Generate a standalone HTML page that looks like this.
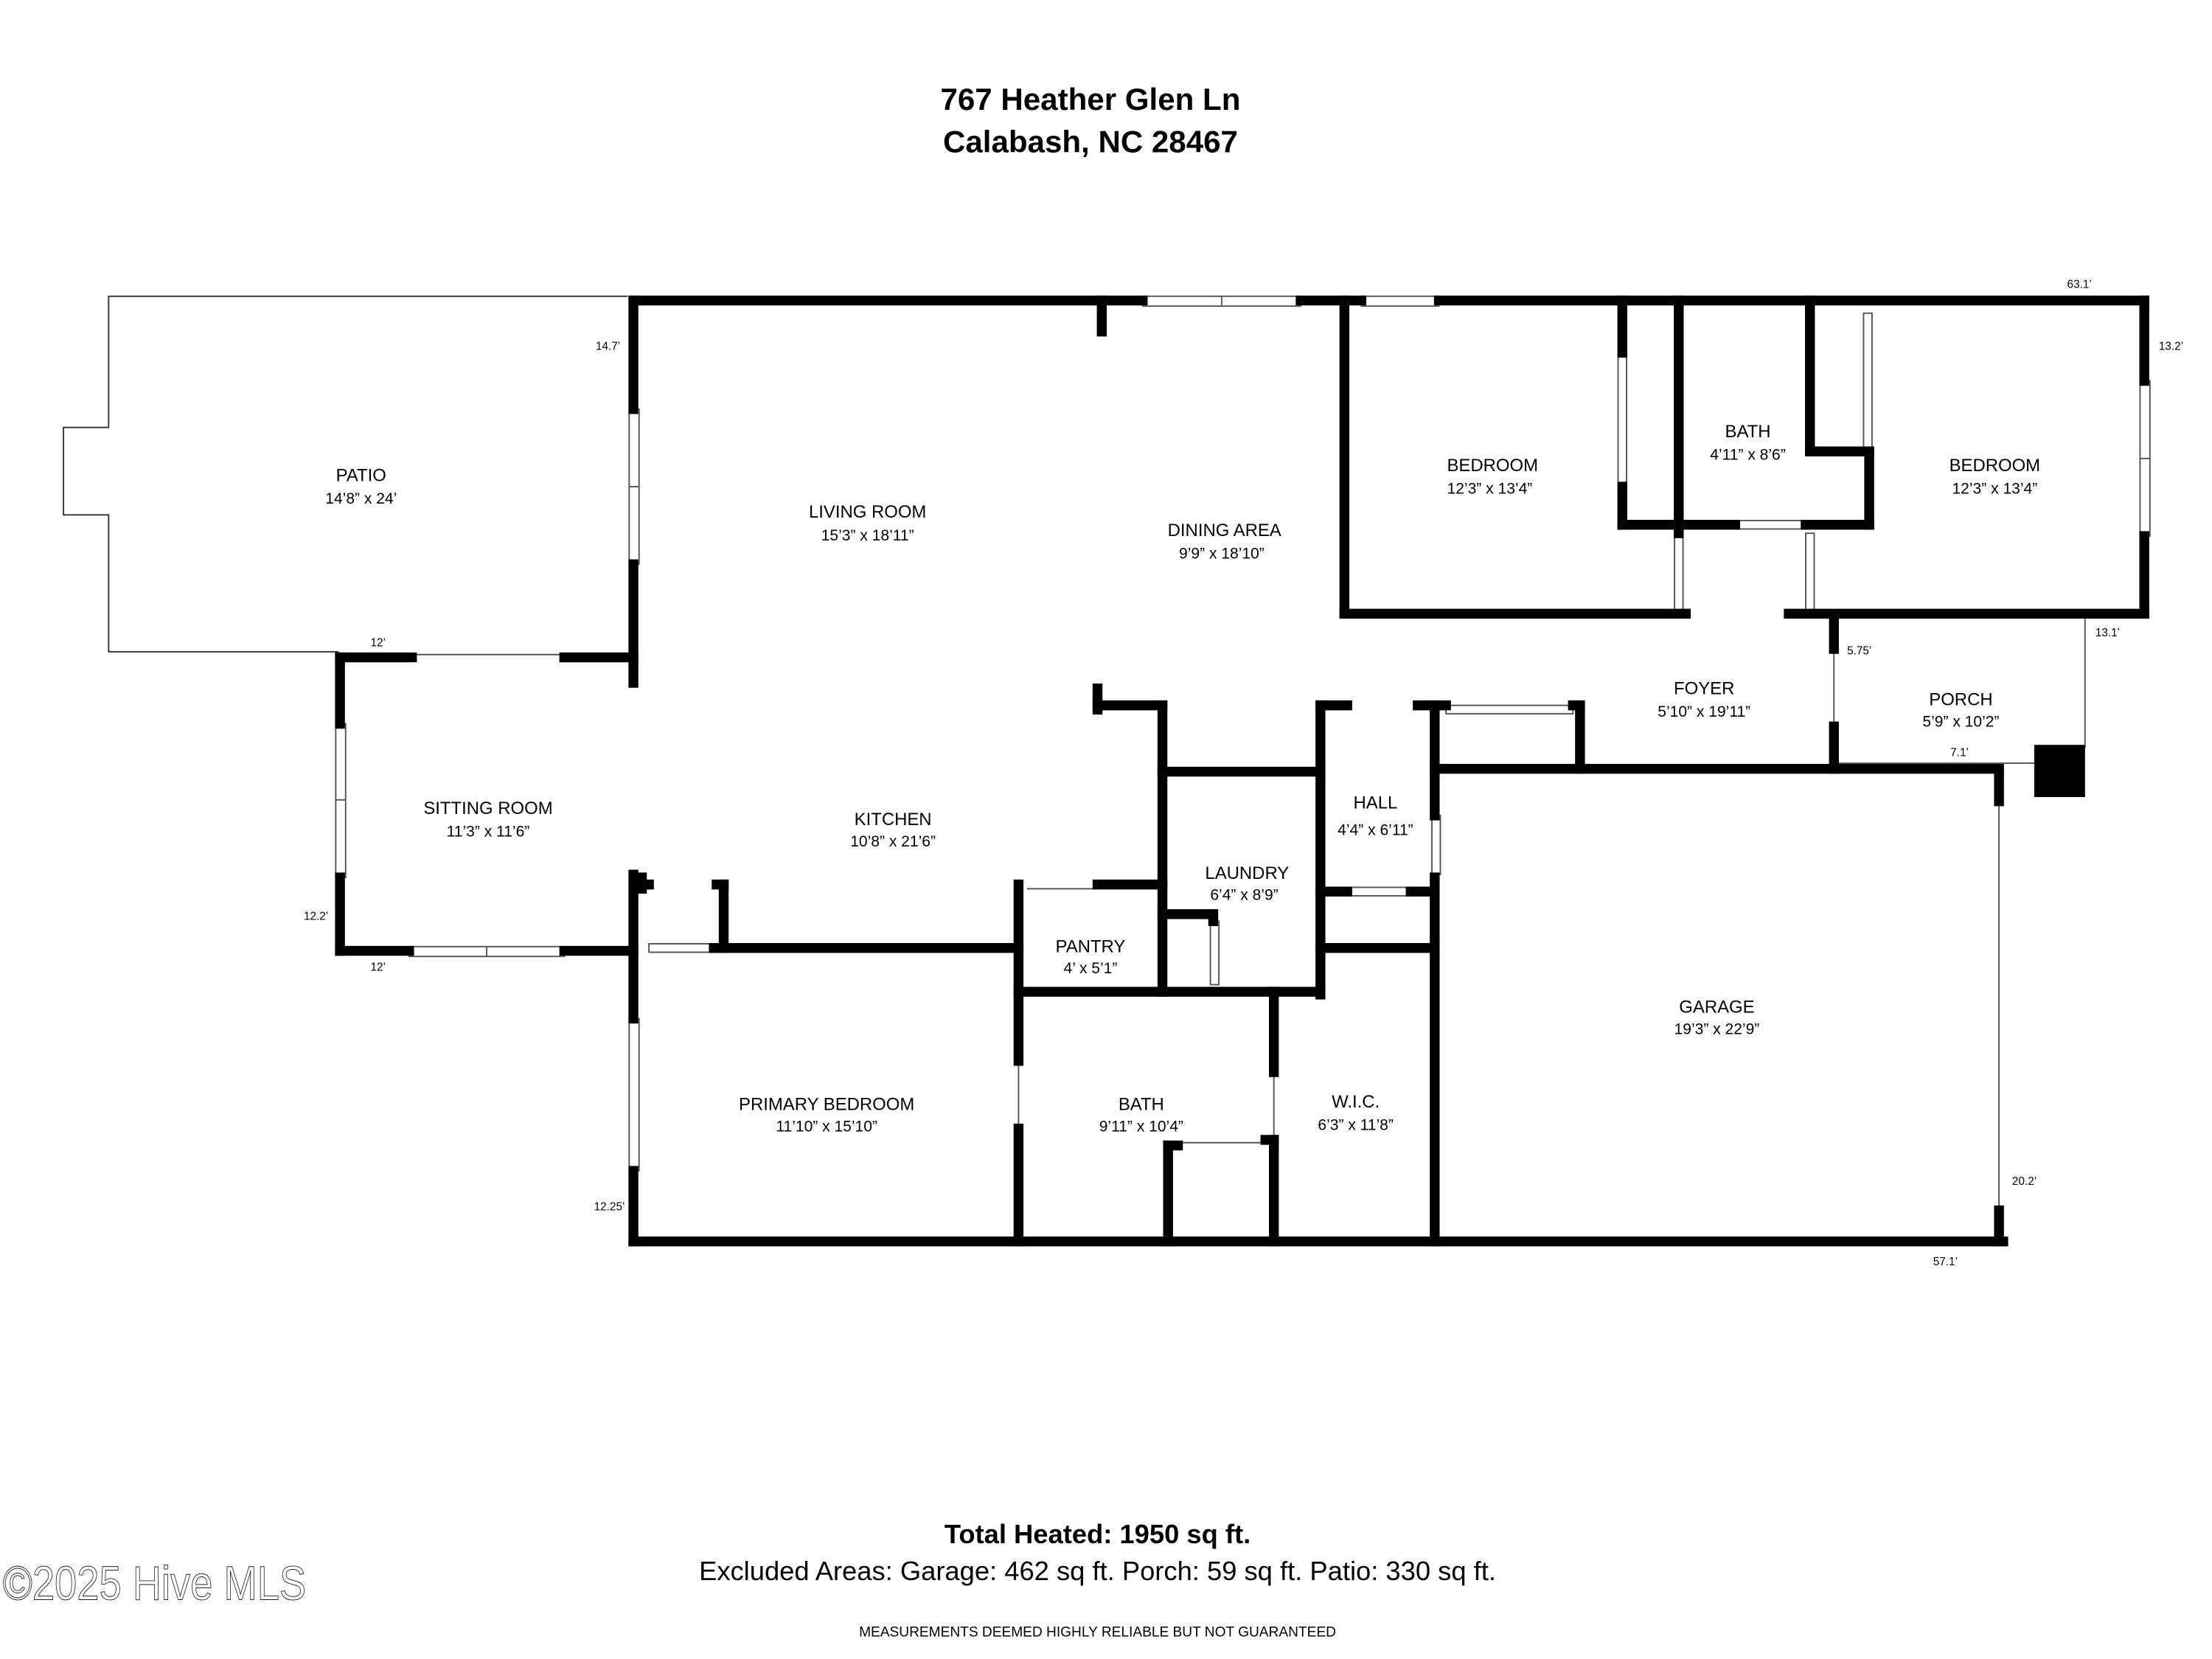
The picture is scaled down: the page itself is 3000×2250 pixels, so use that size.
<!DOCTYPE html>
<html><head><meta charset="utf-8"><style>
html,body{margin:0;padding:0;background:#fff;}
svg{display:block;}
text{font-family:"Liberation Sans",sans-serif;fill:#000;}
</style></head><body>
<svg width="3000" height="2250" viewBox="0 0 1568 1176" xmlns="http://www.w3.org/2000/svg">
<rect width="1568" height="1176" fill="#fff"/>
<text x="773" y="78" font-size="22" font-weight="bold" text-anchor="middle">767 Heather Glen Ln</text>
<text x="773" y="108" font-size="22" font-weight="bold" text-anchor="middle">Calabash, NC 28467</text>

<polyline points="445,210 77,210 77,303 45,303 45,365 77,365 77,462 240,462" fill="none" stroke="#333" stroke-width="1"/>

<g stroke="#555" stroke-width="1" fill="none">
<rect x="810" y="210" width="112" height="7"/><line x1="866" y1="210" x2="866" y2="217"/>
<rect x="965" y="210" width="55" height="7"/>
<rect x="1517" y="270" width="7" height="110"/><line x1="1517" y1="325" x2="1524" y2="325"/>
<rect x="446" y="290" width="7" height="110"/><line x1="446" y1="345" x2="453" y2="345"/>
<rect x="238" y="513" width="7" height="109"/><line x1="238" y1="567" x2="245" y2="567"/>
<rect x="290" y="671" width="110" height="7"/><line x1="345" y1="671" x2="345" y2="678"/>
<rect x="446" y="722" width="7" height="108"/>
<rect x="460" y="669" width="46" height="6"/>
<rect x="1025" y="500" width="90" height="6"/>
<rect x="955" y="629" width="45" height="6"/>
<rect x="1147" y="250" width="6" height="95"/>
<rect x="1321" y="222" width="6" height="95"/>
<rect x="1230" y="369" width="50" height="6"/>
<rect x="1187" y="378" width="6" height="55"/>
<rect x="1280" y="378" width="6" height="55"/>
<rect x="1015" y="578" width="6" height="42"/>
<rect x="858" y="653" width="6" height="45"/>
<line x1="722" y1="752" x2="722" y2="800"/>
<line x1="903" y1="760" x2="903" y2="808"/>
<line x1="835" y1="810" x2="897" y2="810"/>
<line x1="295" y1="464" x2="398" y2="464"/>
<line x1="1300" y1="460" x2="1300" y2="515"/>
<line x1="1417" y1="568" x2="1417" y2="858"/>
<line x1="1478" y1="437" x2="1478" y2="530"/>
<line x1="1300" y1="541" x2="1442" y2="541"/>
<line x1="728" y1="630" x2="778" y2="630"/>
</g>

<g stroke="#000" stroke-width="7" fill="none" stroke-linecap="square">
<line x1="449" y1="213" x2="810" y2="213"/>
<line x1="922" y1="213" x2="965" y2="213"/>
<line x1="1020" y1="213" x2="1520" y2="213"/>
<line x1="781" y1="213" x2="781" y2="235"/>
<line x1="1520" y1="213" x2="1520" y2="270"/>
<line x1="1520" y1="380" x2="1520" y2="435"/>
<line x1="1268" y1="435" x2="1520" y2="435"/>
<line x1="953" y1="435" x2="1195" y2="435"/>
<line x1="953" y1="213" x2="953" y2="435"/>
<line x1="449" y1="213" x2="449" y2="290"/>
<line x1="449" y1="400" x2="449" y2="484"/>
<line x1="241" y1="466" x2="292" y2="466"/>
<line x1="400" y1="466" x2="449" y2="466"/>
<line x1="241" y1="466" x2="241" y2="513"/>
<line x1="241" y1="622" x2="241" y2="674"/>
<line x1="241" y1="674" x2="290" y2="674"/>
<line x1="400" y1="674" x2="449" y2="674"/>
<line x1="449" y1="620" x2="449" y2="722"/>
<line x1="449" y1="830" x2="449" y2="880"/>
<line x1="449" y1="880" x2="1420" y2="880"/>
<line x1="1417" y1="548" x2="1417" y2="568"/>
<line x1="1417" y1="858" x2="1417" y2="880"/>
<line x1="1017" y1="545" x2="1417" y2="545"/>
<line x1="1017" y1="500" x2="1017" y2="578"/>
<line x1="1017" y1="622" x2="1017" y2="880"/>
<line x1="1300" y1="437" x2="1300" y2="460"/>
<line x1="1300" y1="515" x2="1300" y2="545"/>
<line x1="455" y1="622" x2="455" y2="630"/>
<line x1="455" y1="627" x2="460" y2="627"/>
<line x1="513" y1="627" x2="513" y2="672"/>
<line x1="508" y1="627" x2="513" y2="627"/>
<line x1="506" y1="672" x2="722" y2="672"/>
<line x1="722" y1="627" x2="722" y2="752"/>
<line x1="722" y1="800" x2="722" y2="880"/>
<line x1="778" y1="627" x2="824" y2="627"/>
<line x1="824" y1="500" x2="824" y2="703"/>
<line x1="778" y1="500" x2="824" y2="500"/>
<line x1="778" y1="488" x2="778" y2="503"/>
<line x1="824" y1="547" x2="936" y2="547"/>
<line x1="936" y1="500" x2="936" y2="705"/>
<line x1="936" y1="500" x2="955" y2="500"/>
<line x1="1005" y1="500" x2="1025" y2="500"/>
<line x1="1115" y1="500" x2="1120" y2="500"/>
<line x1="1120" y1="500" x2="1120" y2="545"/>
<line x1="722" y1="703" x2="936" y2="703"/>
<line x1="824" y1="648" x2="860" y2="648"/>
<line x1="860" y1="648" x2="860" y2="653"/>
<line x1="936" y1="672" x2="1017" y2="672"/>
<line x1="936" y1="632" x2="955" y2="632"/>
<line x1="1000" y1="632" x2="1017" y2="632"/>
<line x1="903" y1="703" x2="903" y2="760"/>
<line x1="903" y1="808" x2="903" y2="880"/>
<line x1="828" y1="812" x2="828" y2="880"/>
<line x1="828" y1="812" x2="835" y2="812"/>
<line x1="897" y1="808" x2="903" y2="808"/>
<line x1="1150" y1="213" x2="1150" y2="250"/>
<line x1="1150" y1="345" x2="1150" y2="372"/>
<line x1="1150" y1="372" x2="1230" y2="372"/>
<line x1="1190" y1="213" x2="1190" y2="378"/>
<line x1="1280" y1="372" x2="1325" y2="372"/>
<line x1="1283" y1="213" x2="1283" y2="320"/>
<line x1="1283" y1="320" x2="1325" y2="320"/>
<line x1="1325" y1="320" x2="1325" y2="372"/>
</g>
<rect x="1442" y="528" width="36" height="37" fill="#000"/>

<g font-size="12.5" text-anchor="middle">
<text x="256" y="341">PATIO</text><text x="256" y="357" font-size="11">14’8” x 24’</text>
<text x="615" y="367">LIVING ROOM</text><text x="615" y="383" font-size="11">15’3” x 18’11”</text>
<text x="868" y="380">DINING AREA</text><text x="866" y="396" font-size="11">9’9” x 18’10”</text>
<text x="1058" y="334">BEDROOM</text><text x="1056" y="350" font-size="11">12’3” x 13’4”</text>
<text x="1239" y="310">BATH</text><text x="1239" y="326" font-size="11">4’11” x 8’6”</text>
<text x="1414" y="334">BEDROOM</text><text x="1414" y="350" font-size="11">12’3” x 13’4”</text>
<text x="1208" y="492">FOYER</text><text x="1208" y="508" font-size="11">5’10” x 19’11”</text>
<text x="1390" y="500">PORCH</text><text x="1390" y="515" font-size="11">5’9” x 10’2”</text>
<text x="346" y="577">SITTING ROOM</text><text x="346" y="593" font-size="11">11’3” x 11’6”</text>
<text x="633" y="585">KITCHEN</text><text x="633" y="600" font-size="11">10’8” x 21’6”</text>
<text x="975" y="573">HALL</text><text x="975" y="592" font-size="11">4’4” x 6’11”</text>
<text x="884" y="623">LAUNDRY</text><text x="882" y="638" font-size="11">6’4” x 8’9”</text>
<text x="773" y="675">PANTRY</text><text x="773" y="690" font-size="11">4’ x 5’1”</text>
<text x="1217" y="718">GARAGE</text><text x="1217" y="733" font-size="11">19’3” x 22’9”</text>
<text x="586" y="787">PRIMARY BEDROOM</text><text x="586" y="802" font-size="11">11’10” x 15’10”</text>
<text x="809" y="787">BATH</text><text x="809" y="802" font-size="11">9’11” x 10’4”</text>
<text x="961" y="785">W.I.C.</text><text x="961" y="801" font-size="11">6’3” x 11’8”</text>
</g>
<g font-size="8" text-anchor="middle">
<text x="1474" y="204">63.1’</text>
<text x="1539" y="248">13.2’</text>
<text x="431" y="248">14.7’</text>
<text x="268" y="458">12’</text>
<text x="1494" y="451">13.1’</text>
<text x="1318" y="464">5.75’</text>
<text x="1389" y="536">7.1’</text>
<text x="224" y="652">12.2’</text>
<text x="268" y="688">12’</text>
<text x="432" y="858">12.25’</text>
<text x="1435" y="840">20.2’</text>
<text x="1379" y="897">57.1’</text>
</g>
<text x="778" y="1094" font-size="19" font-weight="bold" text-anchor="middle">Total Heated: 1950 sq ft.</text>
<text x="778" y="1120" font-size="19" text-anchor="middle">Excluded Areas: Garage: 462 sq ft. Porch: 59 sq ft. Patio: 330 sq ft.</text>
<text x="778" y="1160" font-size="10" text-anchor="middle">MEASUREMENTS DEEMED HIGHLY RELIABLE BUT NOT GUARANTEED</text>
<text x="2" y="1134" font-size="34" textLength="215" lengthAdjust="spacingAndGlyphs" style="fill:#fff" stroke="#222" stroke-width="0.5">©2025 Hive MLS</text>
</svg>
</body></html>
